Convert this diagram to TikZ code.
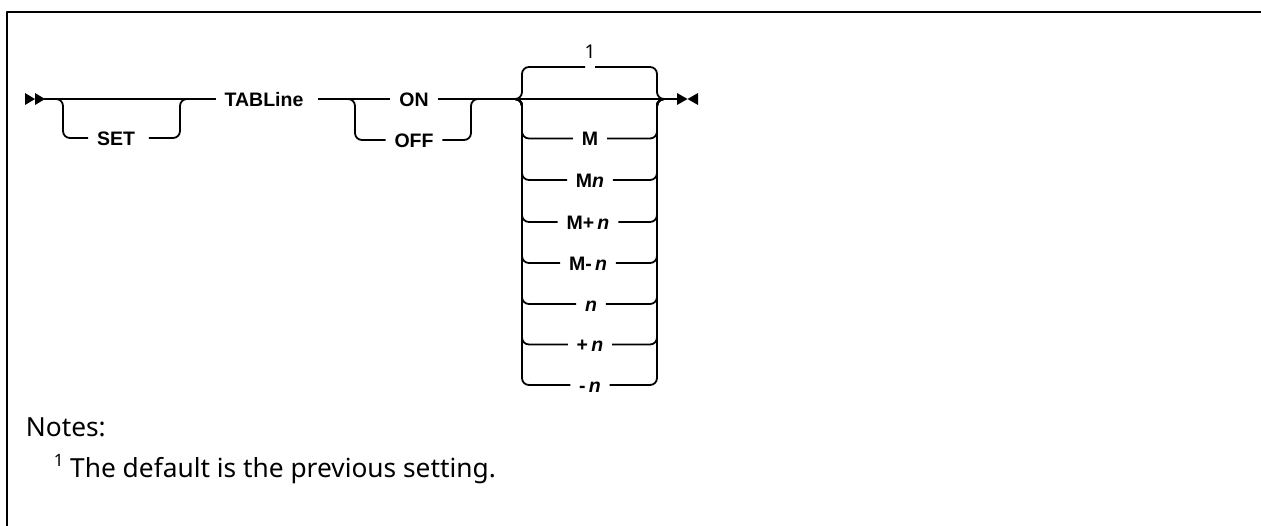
\documentclass[tikz,border=0pt]{standalone}
\usepackage{fontspec}
\setmainfont{Liberation Sans}
\newfontfamily\diagfont{Liberation Sans}
\newfontfamily\notefont{Noto Sans}
\begin{document}
\begin{tikzpicture}[x=1pt,y=-1pt, line width=1.8pt, line join=round,
  rr/.style={rounded corners=7pt},
  lbl/.style={font=\diagfont\bfseries\fontsize{19.5}{24}\selectfont, inner xsep=8pt, inner ysep=0pt,
              text height=14pt, text depth=0pt, anchor=center},
  notes/.style={font=\notefont\fontsize{26.3}{30}\selectfont, inner sep=0pt, anchor=west}]
\useasboundingbox (0,0) rectangle (1261,525);
% frame
\draw[line width=2.6pt] (1262,12) -- (7,12) -- (7,526);

% start double arrowhead
\fill (25,93) -- (35,99) -- (25,105) -- cycle;
\fill (35,93) -- (45,99) -- (35,105) -- cycle;
\coordinate (st) at (44,99);

% labels
\node[lbl] (set) at (116,138) {SET};
\node[lbl] (tab) at (264,99) {TABLine};
\node[lbl] (on)  at (414,99) {ON};
\node[lbl] (off) at (414,140) {OFF};
\node[font=\notefont\fontsize{19}{22}\selectfont, inner sep=0pt] (one) at (590,52) {1};
\node[lbl] (r1) at (590,138.5) {M};
\node[lbl] (r2) at (590,180) {M\textit{n}};
\node[lbl] (r3) at (588,222) {M+\,\textit{n}};
\node[lbl] (r4) at (588,263) {M-\,\textit{n}};
\node[lbl] (r5) at (591,304) {\textit{n}};
\node[lbl] (r6) at (590,344.5) {+\,\textit{n}};
\node[lbl] (r7) at (590,385) {-\,\textit{n}};

% junction coordinates
\coordinate (a1) at (50,99);  \coordinate (a2) at (63,99);
\coordinate (a3) at (180,99); \coordinate (a4) at (193,99);
\coordinate (b1) at (340,99); \coordinate (b2) at (355,99);
\coordinate (b3) at (471,99); \coordinate (b4) at (485,99);
\coordinate (c1) at (508,99); \coordinate (c2) at (522,99);
\coordinate (c3) at (657,99); \coordinate (c4) at (671,99);
\coordinate (gl) at (585,67); \coordinate (gr) at (595,67);
\coordinate (en) at (677,99);

% main line
\draw (st) -- (tab.west);
\draw ([xshift=6pt]tab.east) -- (on.west);
\draw (on.east) -- (en);

% SET branch
\draw[rr] (a1) -- (a2) -- (a2 |- set) -- (set.west);
\draw[rr] ([xshift=5pt]set.east) -- (a3 |- set) -- (a3) -- (a4);

% OFF branch
\draw[rr] (b1) -- (b2) -- (b2 |- off) -- (off.west);
\draw[rr] (off.east) -- (b3 |- off) -- (b3) -- (b4);

% default arc
\draw[rr] (c1) -- (c2) -- (c2 |- gl) -- (gl);
\draw[rr] (gr) -- (c3 |- gr) -- (c3) -- (c4);

% stack rows
\foreach \r in {r1,r2,r3,r4,r5,r6,r7}{
  \draw[rr] (c1) -- (c2) -- (c2 |- \r) -- (\r.west);
  \draw[rr] (\r.east) -- (c3 |- \r) -- (c3) -- (c4);
}

% end arrowheads
\fill (677,93) -- (687.5,99) -- (677,105) -- cycle;
\fill (698,93) -- (687.5,99) -- (698,105) -- cycle;

% notes
\node[notes] (nt) at (25,427) {Notes:};
\node[notes] (fn) at (53,469) {\raisebox{0.42em}{\fontsize{17}{20}\selectfont 1}\hspace{0.25em}The default is the previous setting.};
\end{tikzpicture}
\end{document}
